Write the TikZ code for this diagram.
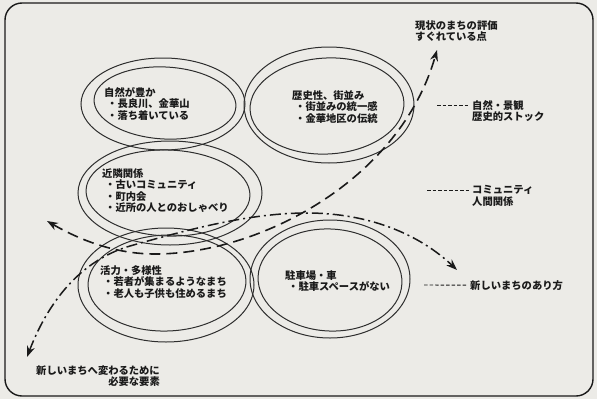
\documentclass[tikz,border=0pt]{standalone}
\usepackage{fontspec}
\newfontfamily\jp{Noto Sans CJK JP}
\usetikzlibrary{arrows.meta}
\definecolor{paper}{HTML}{ECEBE7}
\definecolor{ink}{HTML}{1A1A1A}
\definecolor{pen}{HTML}{2E2E2E}
\tikzset{
  jptext/.style={font=\jp\bfseries\fontsize{10.3pt}{11.6pt}\selectfont, align=left, inner sep=0pt, text=ink},
  ring/.style={draw=pen, line width=1pt},
  dashA/.style={draw=ink, line width=1.6pt, dash pattern=on 11pt off 6pt},
  dashB/.style={draw=ink, line width=1.5pt, dash pattern=on 11pt off 4pt on 2pt off 4pt},
  leader/.style={draw=ink, line width=0.9pt, dash pattern=on 3.5pt off 2pt, shorten >=3pt},
  tip/.tip={Stealth[length=11pt,width=8pt]}
}
\newcommand{\itm}{\hspace*{3pt}・}
\begin{document}
\begin{tikzpicture}[x=1pt,y=-1pt]
\useasboundingbox (0,0) rectangle (597,399);
\fill[paper] (0,0) rectangle (597,399);
\draw[ink, line width=1.4pt, rounded corners=17pt] (5,3) rectangle (593,396);

% ellipses (double hand-drawn rings)
\draw[ring] (163,104) ellipse [x radius=82pt, y radius=46pt];
\draw[ring, rotate around={-3:(165,103)}] (165,103) ellipse [x radius=71pt, y radius=36pt];
\draw[ring] (329,105) ellipse [x radius=85pt, y radius=58pt];
\draw[ring, rotate around={3:(327,106)}] (327,106) ellipse [x radius=77pt, y radius=48pt];
\draw[ring] (170,193) ellipse [x radius=92pt, y radius=52pt];
\draw[ring, rotate around={-2:(168,193)}] (168,193) ellipse [x radius=82pt, y radius=43pt];
\draw[ring] (166,285) ellipse [x radius=88pt, y radius=57pt];
\draw[ring, rotate around={2:(167,283)}] (167,283) ellipse [x radius=79pt, y radius=48pt];
\draw[ring] (330,279) ellipse [x radius=80pt, y radius=59pt];
\draw[ring, rotate around={-3:(330,280)}] (330,280) ellipse [x radius=72pt, y radius=51pt];

% texts in rings
\node[jptext, anchor=north west] (t1) at (104,87) {自然が豊か\\\itm 長良川、金華山\\\itm 落ち着いている};
\node[jptext, anchor=north west] (t2) at (292,90) {歴史性、街並み\\\itm 街並みの統一感\\\itm 金華地区の伝統};
\node[jptext, anchor=north west] (t3) at (102,168) {近隣関係\\\itm 古いコミュニティ\\\itm 町内会\\\itm 近所の人とのおしゃべり};
\node[jptext, anchor=north west] (t4) at (100,265) {活力・多様性\\\itm 若者が集まるようなまち\\\itm 老人も子供も住めるまち};
\node[jptext, anchor=north west] (t5) at (285,270) {駐車場・車\\\itm 駐車スペースがない};

% outer labels
\node[jptext, anchor=north west] (top) at (415,20) {現状のまちの評価\\すぐれている点};
\node[jptext, anchor=north east, align=right] (bot) at (160,365) {新しいまちへ変わるために\\必要な要素};
\node[jptext, anchor=north west] (l1) at (472,100) {自然・景観\\歴史的ストック};
\node[jptext, anchor=north west] (l2) at (472,185) {コミュニティ\\人間関係};
\node[jptext, anchor=north west] (l3) at (470,280) {新しいまちのあり方};

\coordinate (ld1) at (437,105);
\coordinate (ld2) at (427,190);
\coordinate (ld3) at (424,285);
\draw[leader] (ld1) -- (ld1 -| l1.west);
\draw[leader] (ld2) -- (ld2 -| l2.west);
\draw[leader] (ld3) -- (l3.west);

% curves
\coordinate (a1) at (47,221);
\coordinate (am) at (155,254);
\coordinate (a2) at (437,50);
\draw[dashA, tip-tip] (a1) .. controls (80,240) and (115,254) .. (am)
  .. controls (260,254) and (400,180) .. (a2);

\coordinate (b1) at (27,357);
\coordinate (bm1) at (130,246);
\coordinate (bm2) at (307,213);
\coordinate (b2) at (457,270);
\draw[dashB, tip-tip] (b1) .. controls (45,310) and (75,262) .. (bm1)
  .. controls (190,229) and (250,213) .. (bm2)
  .. controls (370,213) and (420,235) .. (b2);
\end{tikzpicture}
\end{document}
